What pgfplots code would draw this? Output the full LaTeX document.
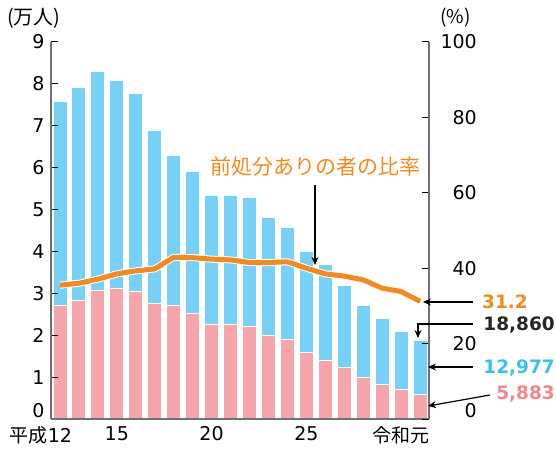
\documentclass[border=0pt]{standalone}
\usepackage{pgfplots}
\pgfplotsset{compat=1.18}
\usepackage{fontspec}
\setmainfont{DejaVu Sans}
\newfontfamily\jp{Noto Sans CJK JP}
\usetikzlibrary{arrows.meta}
\definecolor{bluebar}{HTML}{78D0F4}
\definecolor{pinkbar}{HTML}{F5A6AD}
\definecolor{lineorange}{HTML}{F08A24}
\definecolor{labblue}{HTML}{3EC0EE}
\definecolor{labpink}{HTML}{F0868F}
\definecolor{axgray}{HTML}{707070}

\pgfplotstableread{
x pink blue rate
0  2.70 4.89 35.5
1  2.84 5.07 36.0
2  3.07 5.22 37.1
3  3.11 4.97 38.5
4  3.04 4.74 39.3
5  2.75 4.15 39.8
6  2.70 3.59 42.9
7  2.53 3.37 42.8
8  2.27 3.06 42.4
9  2.25 3.09 42.2
10 2.20 3.09 41.5
11 2.00 2.81 41.5
12 1.90 2.67 41.7
13 1.58 2.43 40.0
14 1.41 2.28 38.5
15 1.22 1.97 37.9
16 1.00 1.72 36.9
17 0.82 1.58 34.7
18 0.70 1.40 33.8
19 0.5883 1.2977 31.2
}\datatable

\begin{document}
\fontsize{19bp}{22bp}\selectfont
\begin{tikzpicture}[>={Stealth[length=8bp, width=7bp]}]
\useasboundingbox (-51bp,-33bp) rectangle (505bp,419bp);
\pgfplotsset{
  base/.style={
    scale only axis, width=378bp, height=377bp,
    xmin=-0.47, xmax=19.47, ymin=0,
    axis line style={axgray, line width=1.3bp},
    tick align=inside, major tick length=7bp,
    tick style={black, line width=1bp},
    ticklabel style={font=\fontsize{19bp}{22bp}\selectfont},
    /pgf/number format/assume math mode=true,
    axis on top,
  }
}
\begin{axis}[base,
  axis y line*=left, axis x line*=bottom,
  ymax=9, ytick={0,...,9},
  yticklabels={\raisebox{8bp}[\height][\depth]{0},1,2,3,4,5,6,7,8,9},
  xtick={0,3,8,13,19},
  xticklabels={\llap{\jp 平成}12,15,20,25,\llap{\jp 令和}{\jp 元}},
  x tick style={draw=none},
  xticklabel style={yshift=-1bp},
  ybar stacked, bar width=14bp,
]
\addplot[draw=white, line width=0.8bp, fill=pinkbar]
  table[x=x, y=pink] {\datatable};
\addplot[draw=white, line width=0.8bp, fill=bluebar]
  table[x=x, y=blue] {\datatable};
\end{axis}
\begin{axis}[base,
  axis y line*=right, axis x line=none,
  ymax=100, ytick={0,20,...,100},
  yticklabels={\raisebox{8bp}[\height][\depth]{0},20,40,60,80,100},
  yticklabel style={anchor=east, inner sep=0pt, xshift=48bp},
]
\addplot[white, line width=7bp, line join=round] table[x=x, y=rate] {\datatable};
\addplot[lineorange, line width=5bp, line join=round] table[x=x, y=rate] {\datatable};
\end{axis}
% unit labels
\node[anchor=west, inner sep=0pt, font=\fontsize{20bp}{24bp}\jp] at (-44bp,401bp) {(万人)};
\node[anchor=west, inner sep=0pt, font=\fontsize{19bp}{22bp}\jp] at (389bp,401bp) {(\%)};
% series label and arrow
\node[text=lineorange, inner sep=0pt, font=\fontsize{21bp}{24bp}\jp] at (264bp,252bp) {前処分ありの者の比率};
\draw[->, line width=1.2bp] (264bp,234bp) -- (264bp,154bp);
% value callouts
\draw[->, line width=1.2bp] (422bp,117bp) -- (372bp,117bp);
\draw[->, line width=1.2bp] (422bp,95bp) -- (367bp,95bp) -- (367bp,81bp);
\draw[->, line width=1.2bp] (422bp,52bp) -- (377bp,52bp);
\draw[->, line width=1.2bp] (439bp,24bp) -- (377bp,13bp);
\begin{scope}[every node/.style={anchor=east, inner sep=0pt, font=\fontsize{18.5bp}{22bp}\selectfont\bfseries}]
\node[text=lineorange, anchor=west] at (431bp,117bp) {31.2};
\node[text=black!85] at (504bp,94bp) {18,860};
\node[text=labblue] at (504bp,51bp) {12,977};
\node[text=labpink] at (504bp,25bp) {5,883};
\end{scope}
\end{tikzpicture}
\end{document}
